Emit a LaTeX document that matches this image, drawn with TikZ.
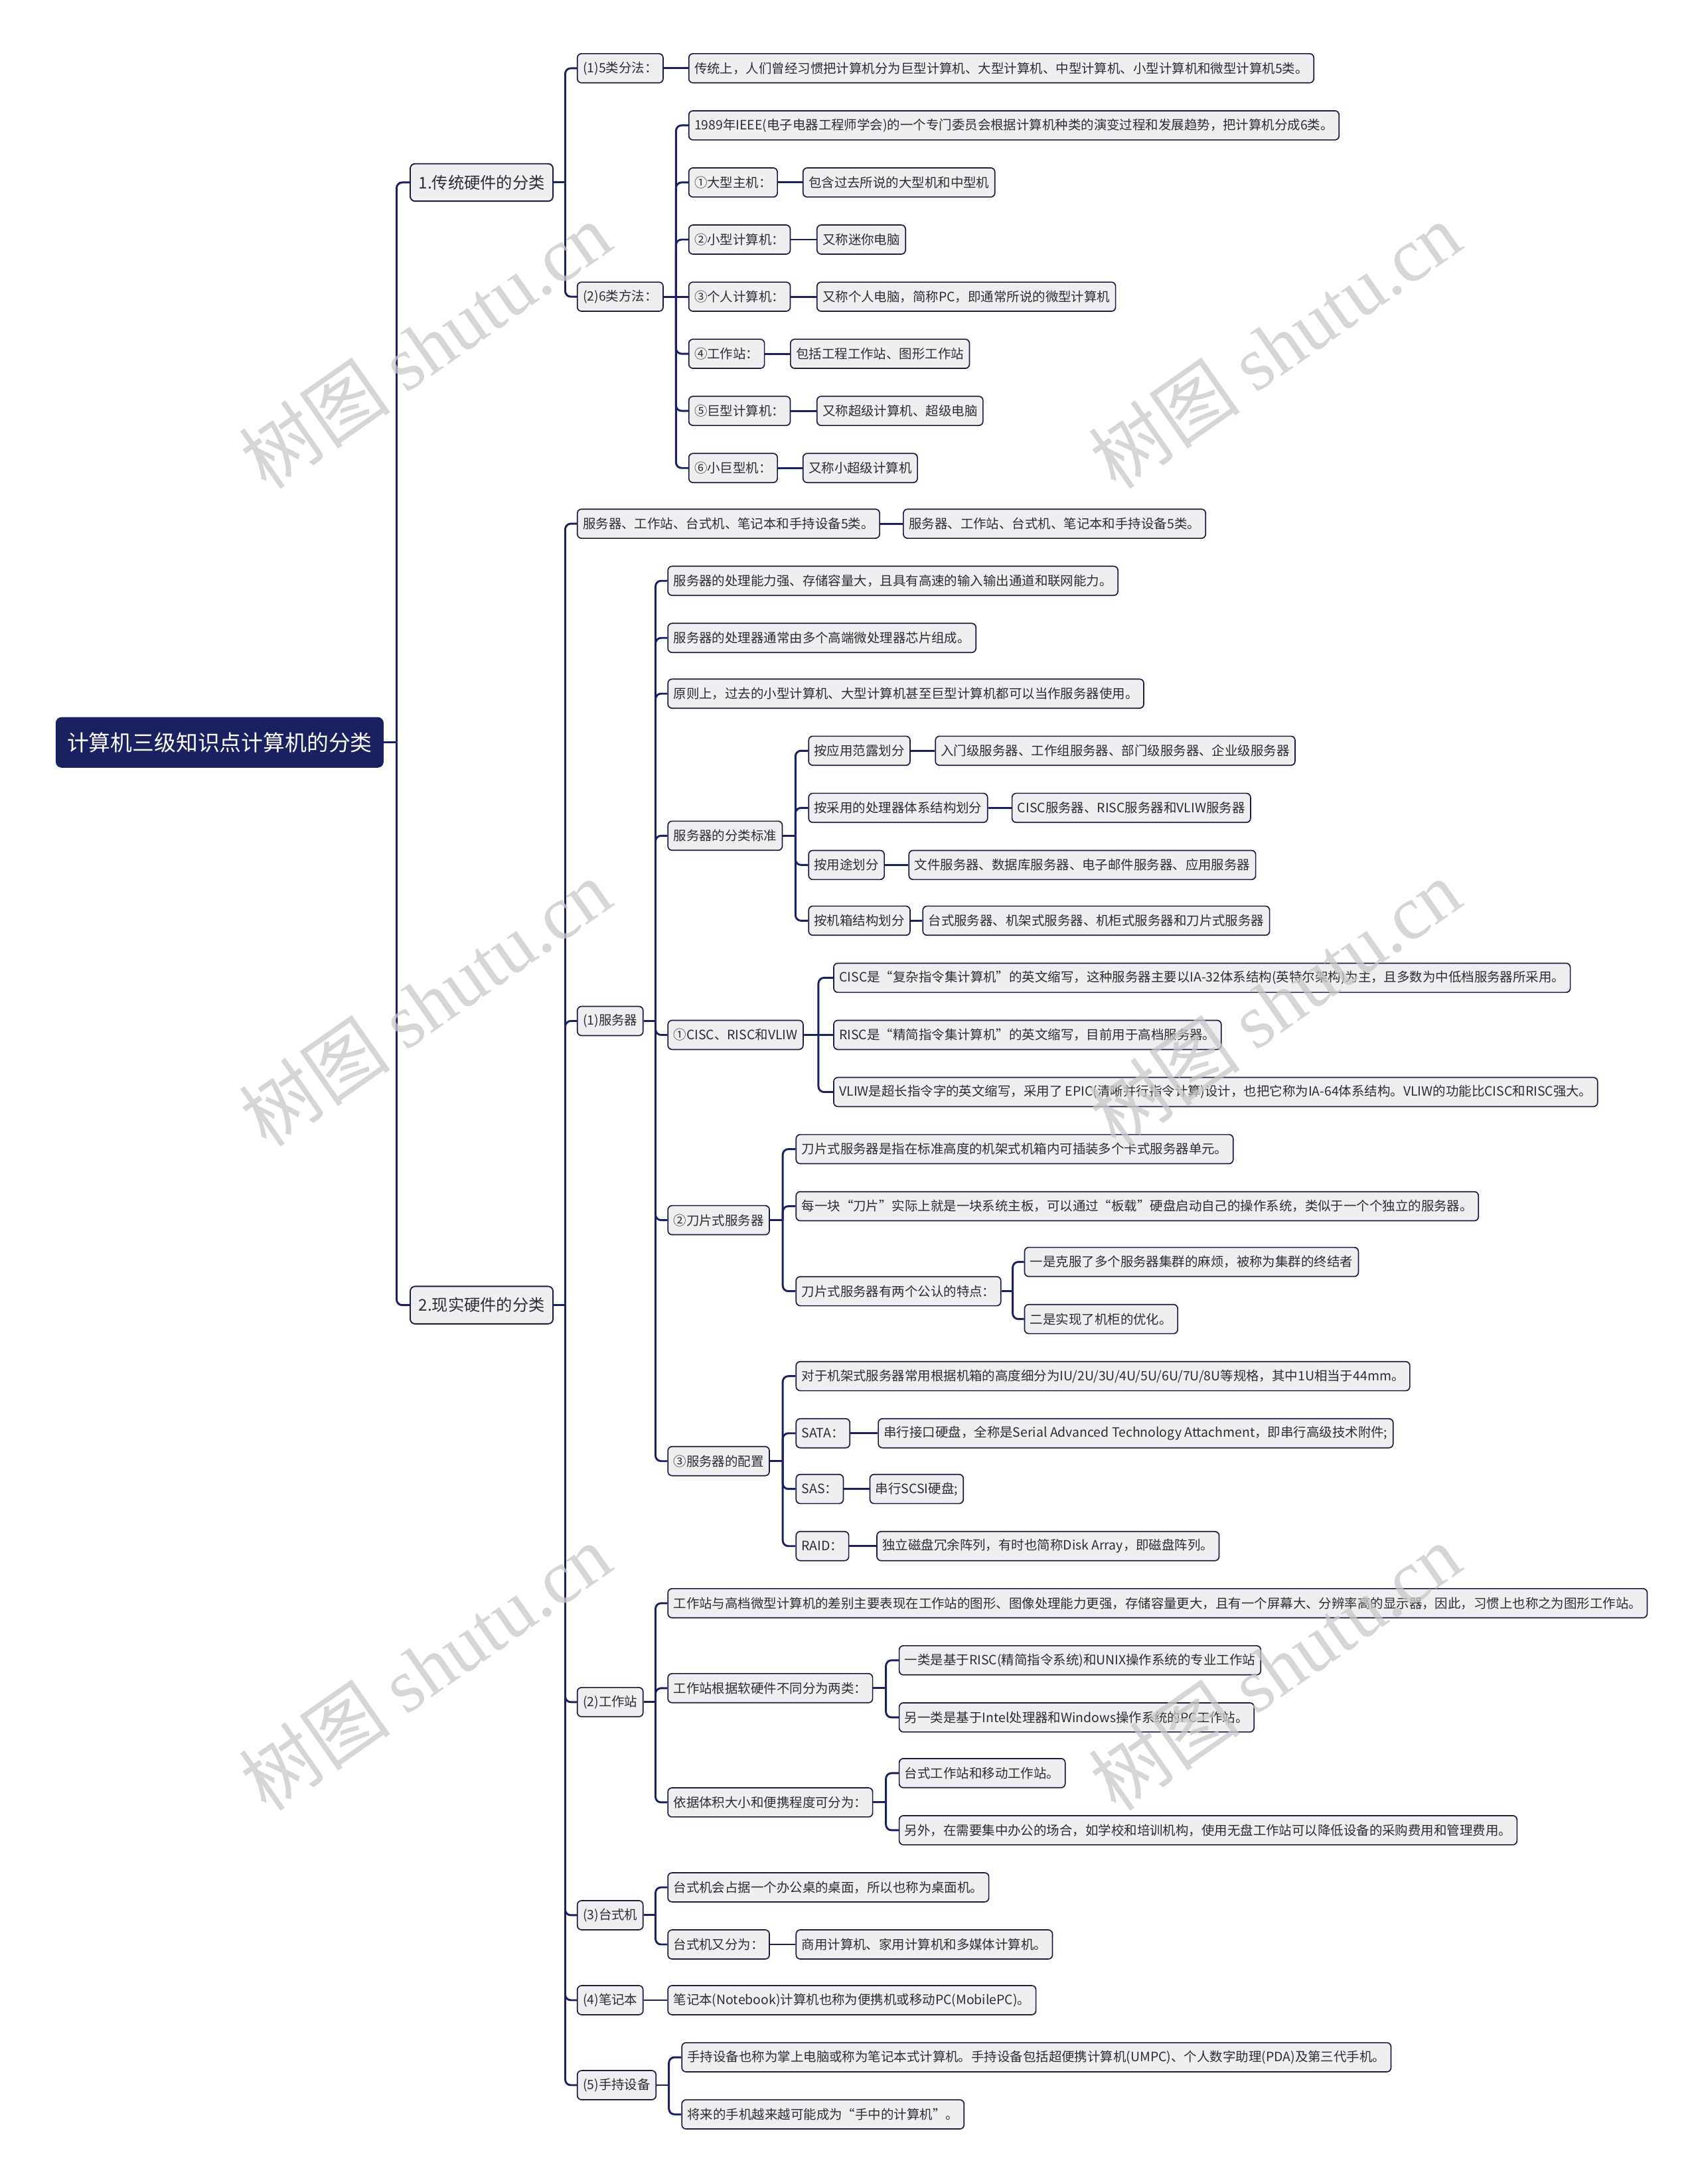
\documentclass[tikz,border=0pt]{standalone}
\usepackage{fontspec}
\setmainfont{Noto Sans CJK SC}
\newfontfamily\wmfont{Liberation Serif}
\usetikzlibrary{calc}

\definecolor{navy}{RGB}{27,32,96}
\definecolor{edge}{RGB}{26,28,64}
\definecolor{boxgrey}{RGB}{239,239,241}
\definecolor{textgrey}{RGB}{45,45,50}
\definecolor{wmgrey}{RGB}{200,200,200}

\tikzset{
  root/.style={rectangle, rounded corners=4pt, fill=navy, draw=navy, text=white,
    font=\fontsize{15.7}{18}\selectfont, minimum height=36pt, inner xsep=8pt, anchor=west},
  topic/.style={rectangle, rounded corners=3.5pt, fill=boxgrey, draw=edge, line width=0.9pt,
    text=textgrey, font=\fontsize{11.6}{14}\selectfont, minimum height=27pt, inner xsep=6pt, anchor=west},
  leaf/.style={rectangle, rounded corners=3pt, fill=boxgrey, draw=edge, line width=0.8pt,
    text=textgrey, font=\fontsize{9.3}{11}\selectfont, minimum height=21pt, inner xsep=4pt, anchor=west},
  link/.style={draw=navy, line width=1.4pt},
  wmark/.style={text=wmgrey, opacity=0.75, rotate=35, font=\fontsize{55}{60}\selectfont}
}

% elbow connector: parent east -> middle trunk -> child west
\newcommand\branch[2]{%
  \draw[link] let \p1=(#1.east), \p2=(#2.west) in
    (\p1) -- ({(\x1+\x2)/2},\y1);
  \draw[link, rounded corners=4pt] let \p1=(#1.east), \p2=(#2.west) in
    ({(\x1+\x2)/2},\y1) -- ({(\x1+\x2)/2},\y2) -- (\p2);}
\newcommand\straight[2]{\draw[link] (#1.east) -- (#2.west);}

\begin{document}
\begin{tikzpicture}[x=1bp, y=-1bp]
\useasboundingbox (0,0) rectangle (1220,1568);

% root and main topics
\node[root] (root) at (40,533) {计算机三级知识点计算机的分类};
\node[topic] (trad) at (294,131) {1.传统硬件的分类};
\node[topic] (real) at (294,937) {2.现实硬件的分类};

% 1. traditional
\node[leaf] (five) at (414,49) {(1)5类分法：};
\node[leaf] (fiveA) at (494,49) {传统上，人们曾经习惯把计算机分为巨型计算机、大型计算机、中型计算机、小型计算机和微型计算机5类。};
\node[leaf] (six) at (414,213) {(2)6类方法：};
\node[leaf] (sixA) at (494,90) {1989年IEEE(电子电器工程师学会)的一个专门委员会根据计算机种类的演变过程和发展趋势，把计算机分成6类。};
\node[leaf] (mainfr) at (494,131) {①大型主机：};
\node[leaf] (mainfrA) at (576,131) {包含过去所说的大型机和中型机};
\node[leaf] (mini) at (494,172) {②小型计算机：};
\node[leaf] (miniA) at (586,172) {又称迷你电脑};
\node[leaf] (pc) at (494,213) {③个人计算机：};
\node[leaf] (pcA) at (586,213) {又称个人电脑，简称PC，即通常所说的微型计算机};
\node[leaf] (ws) at (494,254) {④工作站：};
\node[leaf] (wsA) at (567,254) {包括工程工作站、图形工作站};
\node[leaf] (super) at (494,295) {⑤巨型计算机：};
\node[leaf] (superA) at (586,295) {又称超级计算机、超级电脑};
\node[leaf] (minisup) at (494,336) {⑥小巨型机：};
\node[leaf] (minisupA) at (576,336) {又称小超级计算机};

% 2. real
\node[leaf] (kinds) at (414,376) {服务器、工作站、台式机、笔记本和手持设备5类。};
\node[leaf] (kindsA) at (648,376) {服务器、工作站、台式机、笔记本和手持设备5类。};
\node[leaf] (server) at (414,733) {(1)服务器};
\node[leaf] (wsta) at (414,1222) {(2)工作站};
\node[leaf] (desk) at (414,1375) {(3)台式机};
\node[leaf] (note) at (414,1436) {(4)笔记本};
\node[leaf] (hand) at (414,1497) {(5)手持设备};

% (1) server
\node[leaf] (srvA) at (479,417) {服务器的处理能力强、存储容量大，且具有高速的输入输出通道和联网能力。};
\node[leaf] (srvB) at (479,458) {服务器的处理器通常由多个高端微处理器芯片组成。};
\node[leaf] (srvC) at (479,498) {原则上，过去的小型计算机、大型计算机甚至巨型计算机都可以当作服务器使用。};
\node[leaf] (srvStd) at (479,600) {服务器的分类标准};
\node[leaf] (stdA) at (580,539) {按应用范露划分};
\node[leaf] (stdAA) at (671,539) {入门级服务器、工作组服务器、部门级服务器、企业级服务器};
\node[leaf] (stdB) at (580,580) {按采用的处理器体系结构划分};
\node[leaf] (stdBB) at (726,580) {CISC服务器、RISC服务器和VLIW服务器};
\node[leaf] (stdC) at (580,621) {按用途划分};
\node[leaf] (stdCC) at (652,621) {文件服务器、数据库服务器、电子邮件服务器、应用服务器};
\node[leaf] (stdD) at (580,661) {按机箱结构划分};
\node[leaf] (stdDD) at (662,661) {台式服务器、机架式服务器、机柜式服务器和刀片式服务器};

\node[leaf] (cisc) at (479,743) {①CISC、RISC和VLIW};
\node[leaf] (ciscA) at (598,702) {CISC是“复杂指令集计算机”的英文缩写，这种服务器主要以IA-32体系结构(英特尔架构)为主，且多数为中低档服务器所采用。};
\node[leaf] (ciscB) at (598,743) {RISC是“精简指令集计算机”的英文缩写，目前用于高档服务器。};
\node[leaf] (ciscC) at (598,784) {VLIW是超长指令字的英文缩写，采用了 EPIC(清晰并行指令计算)设计，也把它称为IA-64体系结构。VLIW的功能比CISC和RISC强大。};

\node[leaf] (blade) at (479,876) {②刀片式服务器};
\node[leaf] (bladeA) at (571,825) {刀片式服务器是指在标准高度的机架式机箱内可插装多个卡式服务器单元。};
\node[leaf] (bladeB) at (571,866) {每一块“刀片”实际上就是一块系统主板，可以通过“板载”硬盘启动自己的操作系统，类似于一个个独立的服务器。};
\node[leaf] (bladeC) at (571,927) {刀片式服务器有两个公认的特点：};
\node[leaf] (bladeC1) at (735,906) {一是克服了多个服务器集群的麻烦，被称为集群的终结者};
\node[leaf] (bladeC2) at (735,947) {二是实现了机柜的优化。};

\node[leaf] (conf) at (479,1049) {③服务器的配置};
\node[leaf] (confA) at (571,988) {对于机架式服务器常用根据机箱的高度细分为IU/2U/3U/4U/5U/6U/7U/8U等规格，其中1U相当于44mm。};
\node[leaf] (sata) at (571,1029) {SATA：};
\node[leaf] (sataA) at (630,1029) {串行接口硬盘，全称是Serial Advanced Technology Attachment，即串行高级技术附件;};
\node[leaf] (sas) at (571,1069) {SAS：};
\node[leaf] (sasA) at (624,1069) {串行SCSI硬盘;};
\node[leaf] (raid) at (571,1110) {RAID：};
\node[leaf] (raidA) at (629,1110) {独立磁盘冗余阵列，有时也简称Disk Array，即磁盘阵列。};

% (2) workstation
\node[leaf] (wstaA) at (479,1151) {工作站与高档微型计算机的差别主要表现在工作站的图形、图像处理能力更强，存储容量更大，且有一个屏幕大、分辨率高的显示器，因此，习惯上也称之为图形工作站。};
\node[leaf] (wstaB) at (479,1212) {工作站根据软硬件不同分为两类：};
\node[leaf] (wstaB1) at (645,1192) {一类是基于RISC(精简指令系统)和UNIX操作系统的专业工作站};
\node[leaf] (wstaB2) at (645,1233) {另一类是基于Intel处理器和Windows操作系统的PC工作站。};
\node[leaf] (wstaC) at (479,1294) {依据体积大小和便携程度可分为：};
\node[leaf] (wstaC1) at (645,1273) {台式工作站和移动工作站。};
\node[leaf] (wstaC2) at (645,1314) {另外，在需要集中办公的场合，如学校和培训机构，使用无盘工作站可以降低设备的采购费用和管理费用。};

% (3)-(5)
\node[leaf] (deskA) at (479,1355) {台式机会占据一个办公桌的桌面，所以也称为桌面机。};
\node[leaf] (deskB) at (479,1396) {台式机又分为：};
\node[leaf] (deskBB) at (571,1396) {商用计算机、家用计算机和多媒体计算机。};
\node[leaf] (noteA) at (479,1436) {笔记本(Notebook)计算机也称为便携机或移动PC(MobilePC)。};
\node[leaf] (handA) at (489,1477) {手持设备也称为掌上电脑或称为笔记本式计算机。手持设备包括超便携计算机(UMPC)、个人数字助理(PDA)及第三代手机。};
\node[leaf] (handB) at (489,1518) {将来的手机越来越可能成为“手中的计算机”。};

% connectors
\foreach \c in {trad, real} {\branch{root}{\c}}
\foreach \c in {five, six} {\branch{trad}{\c}}
\straight{five}{fiveA}
\foreach \c in {sixA, mainfr, mini, ws, super, minisup} {\branch{six}{\c}}
\straight{six}{pc}
\straight{mainfr}{mainfrA}
\straight{mini}{miniA}
\straight{pc}{pcA}
\straight{ws}{wsA}
\straight{super}{superA}
\straight{minisup}{minisupA}

\foreach \c in {kinds, server, wsta, desk, note, hand} {\branch{real}{\c}}
\straight{kinds}{kindsA}
\foreach \c in {srvA, srvB, srvC, srvStd, cisc, blade, conf} {\branch{server}{\c}}
\foreach \c in {stdA, stdB, stdC, stdD} {\branch{srvStd}{\c}}
\straight{stdA}{stdAA}
\straight{stdB}{stdBB}
\straight{stdC}{stdCC}
\straight{stdD}{stdDD}
\foreach \c in {ciscA, ciscC} {\branch{cisc}{\c}}
\straight{cisc}{ciscB}
\foreach \c in {bladeA, bladeB, bladeC} {\branch{blade}{\c}}
\foreach \c in {bladeC1, bladeC2} {\branch{bladeC}{\c}}
\foreach \c in {confA, sata, sas, raid} {\branch{conf}{\c}}
\straight{sata}{sataA}
\straight{sas}{sasA}
\straight{raid}{raidA}
\foreach \c in {wstaA, wstaB, wstaC} {\branch{wsta}{\c}}
\foreach \c in {wstaB1, wstaB2} {\branch{wstaB}{\c}}
\foreach \c in {wstaC1, wstaC2} {\branch{wstaC}{\c}}
\foreach \c in {deskA, deskB} {\branch{desk}{\c}}
\straight{deskB}{deskBB}
\straight{note}{noteA}
\foreach \c in {handA, handB} {\branch{hand}{\c}}

% watermarks
\foreach \wy in {248, 720, 1197} {
  \node[wmark] at (305,\wy) {树图 {\wmfont shutu.cn}};
  \node[wmark] at (915,\wy) {树图 {\wmfont shutu.cn}};
}
\end{tikzpicture}
\end{document}
